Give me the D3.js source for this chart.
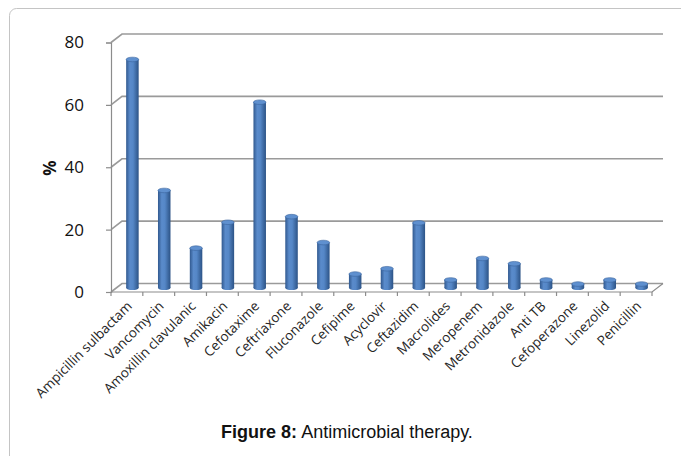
<!DOCTYPE html>
<html>
<head>
<meta charset="utf-8">
<script src="https://cdn.jsdelivr.net/npm/d3@7"></script>
<style>
  html, body { margin: 0; padding: 0; background: #fff; }
  svg { display: block; }
</style>
</head>
<body>
<svg id="chart" width="681" height="456"></svg>
<script>
// Antimicrobial therapy usage (%)
const categories = [
  "Ampicillin sulbactam", "Vancomycin", "Amoxillin clavulanic", "Amikacin",
  "Cefotaxime", "Ceftriaxone", "Fluconazole", "Cefipime", "Acyclovir",
  "Ceftazidim", "Macrolides", "Meropenem", "Metronidazole", "Anti TB",
  "Cefoperazone", "Linezolid", "Penicillin"
];
const values = [73.2, 31.2, 12.7, 21, 59.5, 22.8, 14.5, 4.4, 6.1, 20.8, 2.5, 9.4, 7.7, 2.5, 1.2, 2.5, 1.2];
const yTicks = [0, 20, 40, 60, 80];
const yTitle = "%";
const captionBold = "Figure 8:";
const captionText = " Antimicrobial therapy.";

const svg = d3.select("#chart");

// outer panel frame (runs off the right and bottom edges)
svg.append("rect")
  .attr("x", 9.5).attr("y", 8.5)
  .attr("width", 700).attr("height", 470)
  .attr("rx", 7).attr("ry", 7)
  .attr("fill", "none").attr("stroke", "#c4c4c4").attr("stroke-width", 1);

// 3D-ish plot geometry: front plane + depth offset for the back wall
const left = 111, right = 652;
const depthX = 11, depthY = -8.5;

const x = d3.scaleBand().domain(categories).range([left, right]).paddingInner(0).paddingOuter(0);
const y = d3.scaleLinear().domain([0, 80]).range([292, 42.5]);

const defs = svg.append("defs");
const grad = defs.append("linearGradient").attr("id", "cyl").attr("x1", "0").attr("x2", "1").attr("y1", "0").attr("y2", "0");
[["0%", "#31598f"], ["30%", "#5a8bcb"], ["55%", "#5587c7"], ["100%", "#2c5386"]].forEach(([o, c]) =>
  grad.append("stop").attr("offset", o).attr("stop-color", c));

const axisColor = "#8c8c8c";
const grid = svg.append("g");

// gridlines: front diagonal from axis to back wall, then across the back wall
yTicks.forEach(v => {
  const yf = y(v), yb = y(v) + depthY;
  grid.append("path")
    .attr("d", `M${left},${yf}L${left + depthX},${yb}L${right + depthX},${yb}`)
    .attr("fill", "none").attr("stroke", "#9a9a9a").attr("stroke-width", 1.6);
});

// floor front edge and right edge
grid.append("path")
  .attr("d", `M${left},${y(0)}L${right},${y(0)}L${right + depthX},${y(0) + depthY}`)
  .attr("fill", "none").attr("stroke", axisColor).attr("stroke-width", 1.2);

// value axis
const yAxis = d3.axisLeft(y).tickValues(yTicks).tickSize(5).tickPadding(22).tickFormat(d3.format("d"));
const gy = svg.append("g").attr("transform", `translate(${left},0)`).call(yAxis);
gy.select(".domain").attr("stroke", axisColor).attr("stroke-width", 1.2);
gy.selectAll(".tick line").attr("stroke", axisColor).attr("stroke-width", 1.2);
gy.selectAll(".tick text")
  .attr("font-family", "'Open Sans', sans-serif").attr("font-size", 17).attr("fill", "#111");

// category tick marks at band boundaries
const bounds = categories.map(c => x(c)).concat([right]);
svg.append("g").selectAll("line").data(bounds).join("line")
  .attr("x1", d => d).attr("x2", d => d)
  .attr("y1", y(0)).attr("y2", y(0) + 4)
  .attr("stroke", axisColor).attr("stroke-width", 1.2);

// cylinders, standing at mid-depth
const barW = 12.5, capRy = 2.3;
const bars = svg.append("g");
categories.forEach((c, i) => {
  const cx = x(c) + x.bandwidth() / 2 + depthX / 2;
  const yTop = y(values[i]) + depthY / 2;
  const yBot = y(0) + depthY / 2;
  const g = bars.append("g");
  g.append("ellipse").attr("cx", cx).attr("cy", yBot).attr("rx", barW / 2).attr("ry", capRy).attr("fill", "url(#cyl)");
  g.append("rect").attr("x", cx - barW / 2).attr("y", yTop).attr("width", barW).attr("height", Math.max(0, yBot - yTop)).attr("fill", "url(#cyl)");
  g.append("ellipse").attr("cx", cx).attr("cy", yTop).attr("rx", barW / 2).attr("ry", capRy)
    .attr("fill", "#5f90cf").attr("stroke", "#3b659e").attr("stroke-width", 0.6);
});

// rotated category labels
svg.append("g").selectAll("text").data(categories).join("text")
  .attr("transform", d => `translate(${x(d) + x.bandwidth() / 2 + 6},${y(0) + 15}) rotate(-45)`)
  .attr("text-anchor", "end")
  .attr("font-family", "'Open Sans', sans-serif").attr("font-size", 13.5).attr("fill", "#262626")
  .text(d => d);

// axis title
svg.append("text")
  .attr("transform", `translate(56,168) rotate(-90)`)
  .attr("text-anchor", "middle")
  .attr("font-family", "'Open Sans', sans-serif").attr("font-size", 17).attr("font-weight", "bold").attr("fill", "#111")
  .text(yTitle);

// caption
const cap = svg.append("text")
  .attr("x", 347).attr("y", 438).attr("text-anchor", "middle")
  .attr("font-family", "'Liberation Sans', Arial, sans-serif").attr("font-size", 18).attr("fill", "#111");
cap.append("tspan").attr("font-weight", "bold").text(captionBold);
cap.append("tspan").text(captionText);
</script>
</body>
</html>
